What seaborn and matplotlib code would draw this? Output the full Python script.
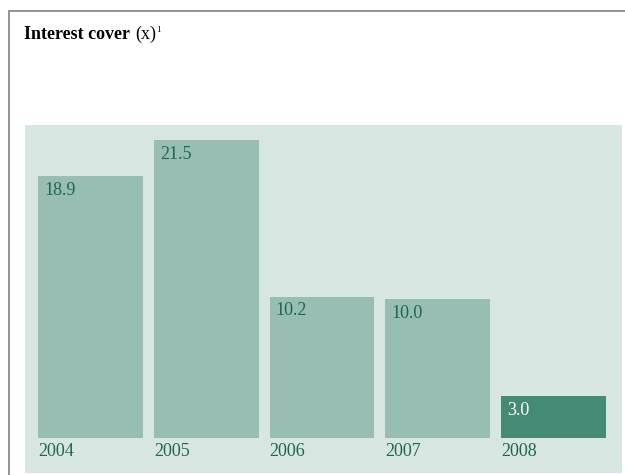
import matplotlib
matplotlib.use("Agg")
import matplotlib.pyplot as plt
import seaborn as sns
from matplotlib.lines import Line2D

years = ["2004", "2005", "2006", "2007", "2008"]
values = [18.9, 21.5, 10.2, 10.0, 3.0]
value_labels = ["18.9", "21.5", "10.2", "10.0", "3.0"]
title_bold = "Interest cover"
title_unit = "(x)"
title_note = "1"

bar_color = "#98bdb2"
hi_color = "#448a74"
panel_color = "#d8e6e1"
text_green = "#1f6650"

sns.set_theme(style="white")
plt.rcParams["font.family"] = ["Liberation Serif", "DejaVu Serif"]

W, H = 625, 475
fig = plt.figure(figsize=(W / 100, H / 100), dpi=100)
fig.patch.set_facecolor("white")

# panel axes in pixel coords
px_l, px_r, px_t, px_b = 25, 622, 125, 473
ax = fig.add_axes([px_l / W, (H - px_b) / H, (px_r - px_l) / W, (px_b - px_t) / H])
ax.set_facecolor(panel_color)

colors = [bar_color] * 4 + [hi_color]
width = 0.907
sns.barplot(x=years, y=values, hue=years, palette=colors, legend=False,
            width=width, saturation=1, ax=ax, linewidth=0)

ax.set_xlim(-0.566, 4.592)
ax.set_ylim(-2.525, 22.58)
for s in ax.spines.values():
    s.set_visible(False)
ax.set_xticks([])
ax.set_yticks([])
ax.set_xlabel("")
ax.set_ylabel("")

for i, (v, lab, yr) in enumerate(zip(values, value_labels, years)):
    left = i - width / 2
    col = "white" if i == len(values) - 1 else text_green
    ax.text(left + 0.055, v - 0.42, lab, ha="left", va="top",
            fontsize=13, color=col)
    ax.text(left + 0.0, -0.33, yr, ha="left", va="top",
            fontsize=13, color=text_green)

# title
fig.text(24 / W, 1 - 39 / H, title_bold, fontsize=13, fontweight="bold",
         color="black", ha="left", va="baseline")
fig.text(135 / W, 1 - 39 / H, title_unit, fontsize=13,
         color="black", ha="left", va="baseline")
fig.text(156 / W, 1 - 32 / H, title_note, fontsize=6.5,
         color="black", ha="left", va="baseline")

# frame lines
fig.add_artist(Line2D([8.5 / W, 1.0], [1 - 11 / H, 1 - 11 / H],
                      color="#8a8a8a", linewidth=1.3, transform=fig.transFigure))
fig.add_artist(Line2D([8.5 / W, 8.5 / W], [0, 1 - 11 / H],
                      color="#8a8a8a", linewidth=1.3, transform=fig.transFigure))

fig.savefig("out.png", dpi=100, facecolor="white")
